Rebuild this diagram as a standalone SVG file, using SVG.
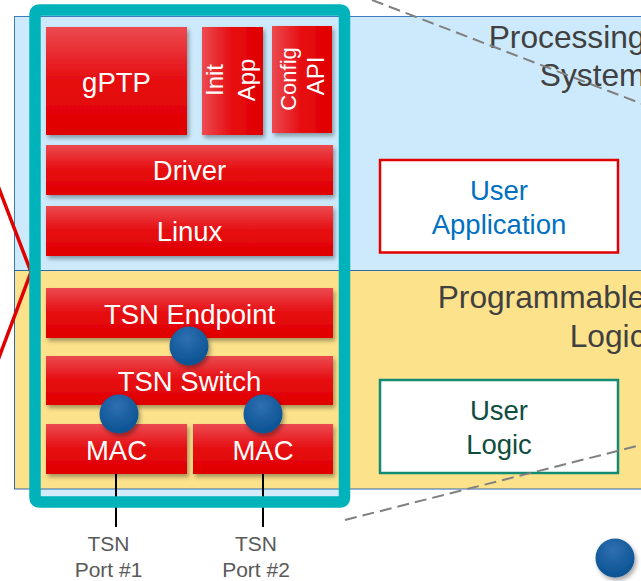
<svg xmlns="http://www.w3.org/2000/svg" width="641" height="581" viewBox="0 0 641 581">
<defs>
<linearGradient id="redV" x1="0" y1="0" x2="0" y2="1">
<stop offset="0" stop-color="#eb4b50"/><stop offset="0.5" stop-color="#e60c10"/><stop offset="1" stop-color="#e00000"/>
</linearGradient>
<linearGradient id="redH" x1="0" y1="0" x2="1" y2="0">
<stop offset="0" stop-color="#eb4b50"/><stop offset="0.5" stop-color="#e60c10"/><stop offset="1" stop-color="#e00000"/>
</linearGradient>
<radialGradient id="dot" cx="0.45" cy="0.3" r="0.75">
<stop offset="0" stop-color="#2f6fb2"/><stop offset="1" stop-color="#06508f"/>
</radialGradient>
<filter id="sh" x="-20%" y="-20%" width="150%" height="160%">
<feDropShadow dx="2" dy="3" stdDeviation="2" flood-color="#000" flood-opacity="0.35"/>
</filter>
<style>
.red{fill:url(#redV);filter:url(#sh)}
.redh{fill:url(#redH);filter:url(#sh)}
.wt{font-family:"Liberation Sans",Arial,sans-serif;font-size:27.5px;fill:#fff;text-anchor:middle}
.wr{font-family:"Liberation Sans",Arial,sans-serif;font-size:24px;fill:#fff;text-anchor:middle}
.big{font-family:"Liberation Sans",Arial,sans-serif;font-size:31.7px;fill:#404040;text-anchor:end}
.port{font-family:"Liberation Sans",Arial,sans-serif;font-size:21px;fill:#595959;text-anchor:middle}
.dot{fill:url(#dot);filter:url(#sh)}
.dash{stroke:#808080;stroke-width:2;stroke-dasharray:12 6;fill:none}
</style>
</defs>
<rect width="641" height="581" fill="#fff"/>
<rect x="35" y="10" width="309.5" height="492" rx="4" fill="#d3ecfb"/>
<g id="processing-system">
<rect x="14.5" y="16.5" width="640" height="254" fill="#cdeafc" stroke="#3a7cbc" stroke-width="1"/>
</g>
<g id="programmable-logic">
<rect x="14.5" y="270.5" width="640" height="218.5" fill="#fde28c" stroke="#2f6aa6" stroke-width="1"/>
</g>
<g id="connectors">
<line x1="116" y1="474" x2="116" y2="527" stroke="#000" stroke-width="2"/>
<line x1="263" y1="474" x2="263" y2="527" stroke="#000" stroke-width="2"/>
<polyline points="-2,186 31,272 -2,360" fill="none" stroke="#e00000" stroke-width="3.5"/>
</g>
<g id="frame">
<rect x="35" y="10" width="309.5" height="492" rx="4" fill="none" stroke="#00b2b9" stroke-width="11.5"/>
</g>
<g id="gptp"><rect class="red" x="46" y="27" width="141" height="108"/><text class="wt" x="116.5" y="91.5">gPTP</text></g>
<g id="init-app"><rect class="redh" x="202" y="27" width="61" height="108"/>
<text class="wr" transform="translate(232.5,80) rotate(-90)"><tspan x="0" y="-9.5">Init</tspan><tspan x="0" y="22.5">App</tspan></text></g>
<g id="config-api"><rect class="redh" x="272" y="26" width="60" height="107"/>
<text class="wr" transform="translate(302,79) rotate(-90)"><tspan x="0" y="-6" font-size="22">Config</tspan><tspan x="3" y="22">API</tspan></text></g>
<g id="driver"><rect class="red" x="46" y="145" width="287" height="50"/><text class="wt" x="189.5" y="180">Driver</text></g>
<g id="linux"><rect class="red" x="46" y="206" width="287" height="50"/><text class="wt" x="189.5" y="240.5">Linux</text></g>
<g id="tsn-endpoint"><rect class="red" x="46" y="288" width="287" height="50"/><text class="wt" x="189.5" y="323.5">TSN Endpoint</text></g>
<g id="tsn-switch"><rect class="red" x="46" y="356" width="287" height="49"/><text class="wt" x="189.5" y="390.5">TSN Switch</text></g>
<g id="mac1"><rect class="red" x="46" y="424" width="141" height="50"/><text class="wt" x="116.5" y="459.5">MAC</text></g>
<g id="mac2"><rect class="red" x="193" y="424" width="140" height="50"/><text class="wt" x="263" y="459.5">MAC</text></g>
<g id="dots">
<circle class="dot" cx="189" cy="346" r="19.5"/>
<circle class="dot" cx="119" cy="414" r="19.5"/>
<circle class="dot" cx="263" cy="414" r="19.5"/>
<circle class="dot" cx="615" cy="558" r="19.5"/>
</g>
<g id="user-application">
<rect x="380" y="160" width="238" height="92.5" fill="#fff" stroke="#e00000" stroke-width="2.5"/>
<text font-family="Liberation Sans, Arial, sans-serif" font-size="27.5" fill="#0070c0" text-anchor="middle"><tspan x="499" y="200">User</tspan><tspan x="499" y="233.5">Application</tspan></text>
</g>
<g id="user-logic">
<rect x="380" y="380" width="238" height="93" fill="#fff" stroke="#138a73" stroke-width="2.5"/>
<text font-family="Liberation Sans, Arial, sans-serif" font-size="27.5" fill="#0f4d3e" text-anchor="middle"><tspan x="499" y="419.5">User</tspan><tspan x="499" y="453.5">Logic</tspan></text>
</g>
<g id="labels">
<text class="big"><tspan x="645.5" y="47.5">Processing</tspan><tspan x="645.5" y="85.5">System</tspan></text>
<text class="big"><tspan x="645.5" y="308">Programmable</tspan><tspan x="645.5" y="346.5">Logic</tspan></text>
<text class="port"><tspan x="108.5" y="550.5">TSN</tspan><tspan x="108.5" y="577">Port #1</tspan></text>
<text class="port"><tspan x="256" y="550.5">TSN</tspan><tspan x="256" y="577">Port #2</tspan></text>
</g>
<g id="zoom-lines">
<line class="dash" x1="372" y1="0" x2="645" y2="105"/>
<line class="dash" x1="345" y1="520" x2="645" y2="444"/>
</g>
</svg>
